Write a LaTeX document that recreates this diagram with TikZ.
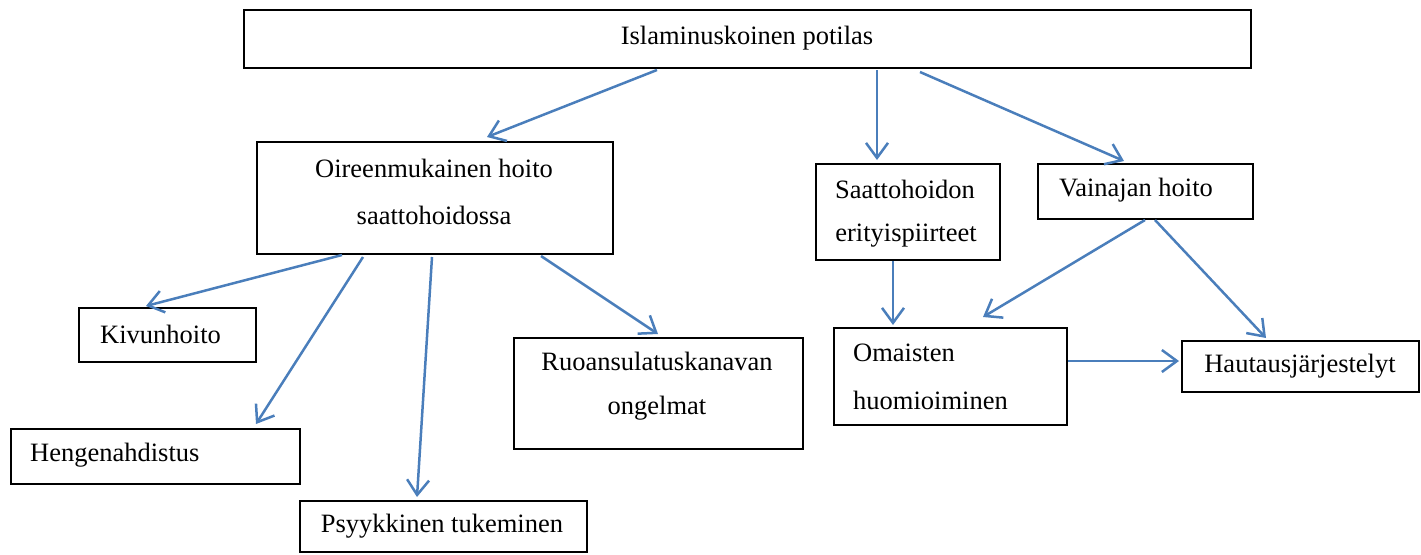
\documentclass[tikz,border=0pt]{standalone}
\usepackage{fontspec}
\setmainfont{Liberation Serif}
\usetikzlibrary{arrows.meta}
\definecolor{arrowblue}{HTML}{4A7EBB}
\tikzset{
  box/.style={draw=black, line width=2pt, rectangle, inner sep=0pt, anchor=north west},
  lbl/.style={inner sep=0pt, font=\fontsize{26.5}{32}\selectfont},
  conn/.style={draw=arrowblue, line width=2.5pt, -{Straight Barb[length=15pt,width=22pt,line width=2.5pt]}}
}
\begin{document}
\begin{tikzpicture}[x=1pt,y=-1pt]
\useasboundingbox (0,0) rectangle (1421,554);
% boxes
\node[box, minimum width=1007pt, minimum height=58pt] (top) at (243,9) {};
\node[box, minimum width=356pt, minimum height=112pt] (oire) at (256,141) {};
\node[box, minimum width=177pt, minimum height=54pt] (kivu) at (78,307) {};
\node[box, minimum width=289pt, minimum height=55pt] (heng) at (10,428) {};
\node[box, minimum width=287pt, minimum height=51pt] (psyy) at (299,500) {};
\node[box, minimum width=289pt, minimum height=111pt] (ruoa) at (513,337) {};
\node[box, minimum width=184pt, minimum height=96pt] (saat) at (815,163) {};
\node[box, minimum width=215pt, minimum height=55pt] (vain) at (1037,163) {};
\node[box, minimum width=233pt, minimum height=97pt] (omai) at (833,327) {};
\node[box, minimum width=237pt, minimum height=51pt] (haut) at (1181,340) {};
% texts
\node[lbl] (ttop) at (747,38) {Islaminuskoinen potilas};
\node[lbl] (toire1) at (434,168) {Oireenmukainen hoito};
\node[lbl] (toire2) at (434,215) {saattohoidossa};
\node[lbl, anchor=west] (tkivu) at (100,334) {Kivunhoito};
\node[lbl, anchor=west] (theng) at (30,455) {Hengenahdistus};
\node[lbl] (tpsyy) at (442,526) {Psyykkinen tukeminen};
\node[lbl] (truoa1) at (657,361) {Ruoansulatuskanavan};
\node[lbl] (truoa2) at (657,408) {ongelmat};
\node[lbl] (tsaat1) at (905,189) {Saattohoidon};
\node[lbl] (tsaat2) at (906,236) {erityispiirteet};
\node[lbl] (tvain) at (1136,190) {Vainajan hoito};
\node[lbl, anchor=west] (tomai1) at (853,353) {Omaisten};
\node[lbl, anchor=west] (tomai2) at (853,400) {huomioiminen};
\node[lbl] (thaut) at (1300,366) {Hautausjärjestelyt};
% connectors
\draw[conn] ([xshift=414pt,yshift=-1pt]top.south west) -- ([xshift=231pt,yshift=4pt]oire.north west);
\draw[conn] ([xshift=634pt,yshift=-1pt]top.south west) -- ([xshift=62pt,yshift=3pt]saat.north west);
\draw[conn] ([xshift=677pt,yshift=-3pt]top.south west) -- ([xshift=87pt,yshift=2pt]vain.north west);
\draw[conn] ([xshift=86pt]oire.south west) -- ([xshift=68pt,yshift=1pt]kivu.north west);
\draw[conn] ([xshift=107pt,yshift=-2pt]oire.south west) -- ([xshift=246pt,yshift=4pt]heng.north west);
\draw[conn] ([xshift=176pt,yshift=-2pt]oire.south west) -- ([xshift=118pt,yshift=3pt]psyy.north west);
\draw[conn] ([xshift=285pt,yshift=-1pt]oire.south west) -- ([xshift=145pt,yshift=3pt]ruoa.north west);
\draw[conn] ([xshift=78pt]saat.south west) -- ([xshift=60pt,yshift=2pt]omai.north west);
\draw[conn] ([xshift=108pt]vain.south west) -- ([xshift=150pt,yshift=10pt]omai.north west);
\draw[conn] ([xshift=118pt]vain.south west) -- ([xshift=85pt,yshift=2pt]haut.north west);
\draw[conn] ([yshift=-34pt]omai.north east) -- ([xshift=-2pt,yshift=-21pt]haut.north west);
\end{tikzpicture}
\end{document}
